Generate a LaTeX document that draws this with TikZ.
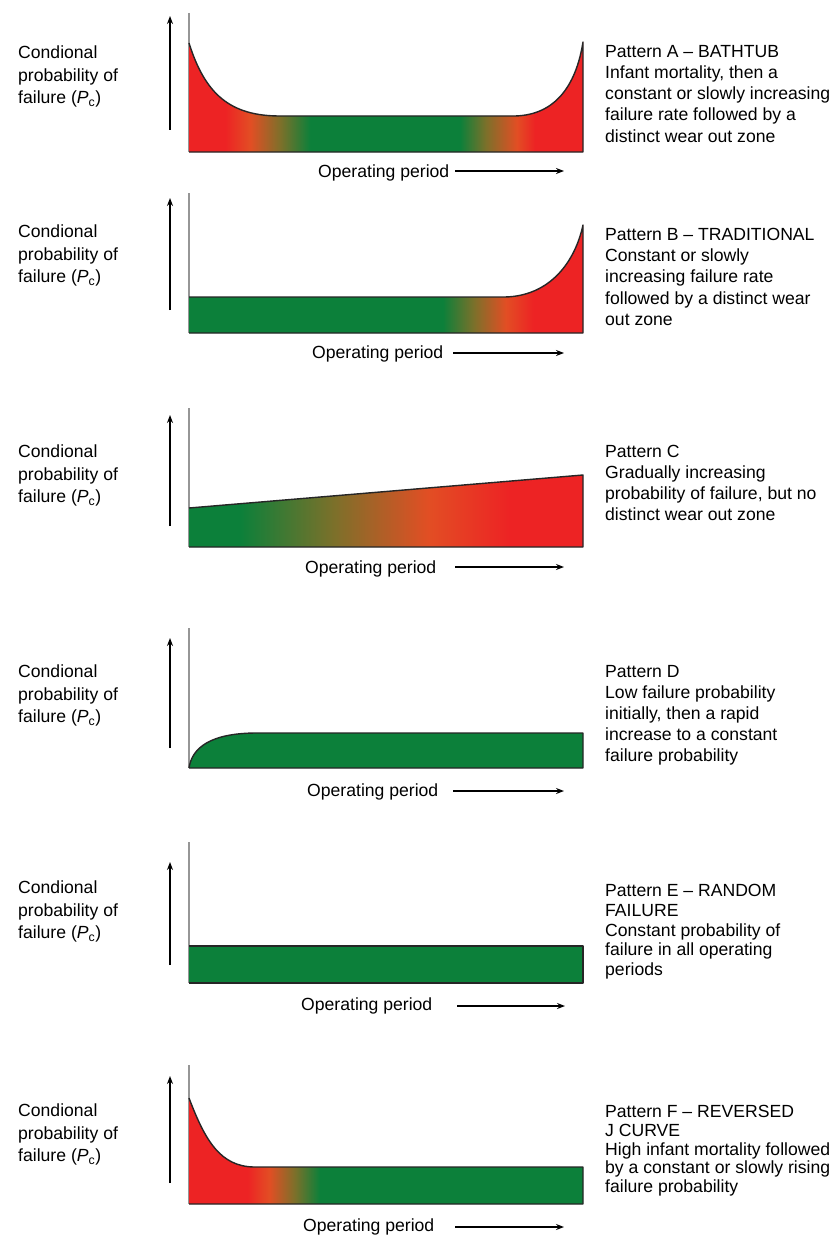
\documentclass[tikz,border=0pt]{standalone}
\usepackage{fontspec}
\setmainfont{Liberation Sans}
\usetikzlibrary{arrows.meta}

\definecolor{fred}{RGB}{237,35,36}
\definecolor{forange}{RGB}{226,78,36}
\definecolor{folive}{RGB}{125,112,42}
\definecolor{fgreen}{RGB}{12,128,58}
\definecolor{axisgray}{RGB}{150,150,150}

% horizontal colour ramps; 25bp..75bp spans the plot width (x = 189..583)
\pgfdeclarehorizontalshading{shadeA}{100bp}{color(0bp)=(fred); color(29.6bp)=(fred); color(32.8bp)=(forange); color(36.6bp)=(folive); color(40.4bp)=(fgreen); color(59.4bp)=(fgreen); color(62.7bp)=(folive); color(66.6bp)=(forange); color(68.9bp)=(fred); color(100bp)=(fred)}
\pgfdeclarehorizontalshading{shadeB}{100bp}{color(0bp)=(fgreen); color(57.2bp)=(fgreen); color(61.2bp)=(folive); color(65.2bp)=(forange); color(68.7bp)=(fred); color(100bp)=(fred)}
\pgfdeclarehorizontalshading{shadeC}{100bp}{color(0bp)=(fgreen); color(31.5bp)=(fgreen); color(43.5bp)=(folive); color(55.4bp)=(forange); color(65.7bp)=(fred); color(100bp)=(fred)}
\pgfdeclarehorizontalshading{shadeF}{100bp}{color(0bp)=(fred); color(32.4bp)=(fred); color(35.2bp)=(forange); color(38.4bp)=(folive); color(41.6bp)=(fgreen); color(100bp)=(fgreen)}

\begin{document}
\begin{tikzpicture}[x=1pt,y=-1pt,
  axisline/.style={axisgray,line width=1.2pt},
  vecarrow/.style={line width=1.6pt,-{Stealth[length=8pt,width=6pt]}},
  curveline/.style={black!85,line width=1.4pt,line join=round},
  ylabel/.style={anchor=north west,inner sep=0pt,align=left,font={\fontsize{17.6}{22.5}\selectfont}},
  desc/.style={anchor=north west,inner sep=0pt,align=left,font={\fontsize{17.6}{#1}\selectfont}},
  oplabel/.style={anchor=base west,inner sep=0pt,font={\fontsize{17.6}{21}\selectfont}},
]
\useasboundingbox (0,0) rectangle (839,1236);
\fill[white] (0,0) rectangle (839,1236);

\newcommand{\condlabel}{Condional\\probability of\\failure (\textit{P}\textsubscript{c})}

% ---------------- Pattern A ----------------
\draw[axisline] (189,13) -- (189,152);
\shade[shading=shadeA] (189,152) -- (189,43) .. controls (205,94) and (230,116) .. (280,116)
  -- (515,116) .. controls (555,115) and (576,86) .. (583,42) -- (583,152) -- cycle;
\draw[curveline] (189,43) .. controls (205,94) and (230,116) .. (280,116)
  -- (515,116) .. controls (555,115) and (576,86) .. (583,42) -- (583,152) -- (189,152);
\coordinate (upA0) at (170,130); \coordinate (upA1) at (170,16);
\draw[vecarrow] (upA0) -- (upA1);
\node[ylabel] (yA) at (18,46) {\condlabel};
\node[oplabel] (opA) at (318,177) {Operating period};
\coordinate (rtA0) at (455,171); \coordinate (rtA1) at (564,171);
\draw[vecarrow] (rtA0) -- (rtA1);
\node[desc=21.2] (dA) at (605,45) {Pattern A \textendash{} BATHTUB\\Infant mortality, then a\\constant or slowly increasing\\failure rate followed by a\\distinct wear out zone};

% ---------------- Pattern B ----------------
\draw[axisline] (189,193) -- (189,333);
\shade[shading=shadeB] (189,333) -- (189,297) -- (505,297)
  .. controls (550,296) and (575,262) .. (583,225) -- (583,333) -- cycle;
\draw[curveline] (189,297) -- (505,297)
  .. controls (550,296) and (575,262) .. (583,225) -- (583,333) -- (189,333);
\coordinate (upB0) at (170,310); \coordinate (upB1) at (170,198);
\draw[vecarrow] (upB0) -- (upB1);
\node[ylabel] (yB) at (18,225) {\condlabel};
\node[oplabel] (opB) at (312,358) {Operating period};
\coordinate (rtB0) at (453,353); \coordinate (rtB1) at (564,353);
\draw[vecarrow] (rtB0) -- (rtB1);
\node[desc=21.2] (dB) at (605,228) {Pattern B \textendash{} TRADITIONAL\\Constant or slowly\\increasing failure rate\\followed by a distinct wear\\out zone};

% ---------------- Pattern C ----------------
\draw[axisline] (189,408) -- (189,547);
\shade[shading=shadeC] (189,547) -- (189,508) -- (583,475) -- (583,547) -- cycle;
\draw[curveline] (189,508) -- (583,475) -- (583,547) -- (189,547);
\coordinate (upC0) at (170,526); \coordinate (upC1) at (170,415);
\draw[vecarrow] (upC0) -- (upC1);
\node[ylabel] (yC) at (18,445) {\condlabel};
\node[oplabel] (opC) at (305,573) {Operating period};
\coordinate (rtC0) at (455,567); \coordinate (rtC1) at (564,567);
\draw[vecarrow] (rtC0) -- (rtC1);
\node[desc=21] (dC) at (605,445) {Pattern C\\Gradually increasing\\probability of failure, but no\\distinct wear out zone};

% ---------------- Pattern D ----------------
\draw[axisline] (189,628) -- (189,768);
\fill[fgreen] (189,768) .. controls (192,748) and (210,733) .. (257,733)
  -- (583,733) -- (583,768) -- cycle;
\draw[curveline] (189,768) .. controls (192,748) and (210,733) .. (257,733)
  -- (583,733) -- (583,768) -- (189,768);
\coordinate (upD0) at (170,748); \coordinate (upD1) at (170,638);
\draw[vecarrow] (upD0) -- (upD1);
\node[ylabel] (yD) at (18,665) {\condlabel};
\node[oplabel] (opD) at (307,796) {Operating period};
\coordinate (rtD0) at (453,791); \coordinate (rtD1) at (564,791);
\draw[vecarrow] (rtD0) -- (rtD1);
\node[desc=21] (dD) at (605,665) {Pattern D\\Low failure probability\\initially, then a rapid\\increase to a constant\\failure probability};

% ---------------- Pattern E ----------------
\draw[axisline] (189,842) -- (189,983);
\fill[fgreen] (189,946) rectangle (583,983);
\draw[curveline] (189,946) -- (583,946) -- (583,983) -- (189,983);
\coordinate (upE0) at (170,965); \coordinate (upE1) at (170,862);
\draw[vecarrow] (upE0) -- (upE1);
\node[ylabel] (yE) at (18,881) {\condlabel};
\node[oplabel] (opE) at (301,1010) {Operating period};
\coordinate (rtE0) at (457,1006); \coordinate (rtE1) at (565,1006);
\draw[vecarrow] (rtE0) -- (rtE1);
\node[desc=19.8] (dE) at (605,884) {Pattern E \textendash{} RANDOM\\FAILURE\\Constant probability of\\failure in all operating\\periods};

% ---------------- Pattern F ----------------
\draw[axisline] (189,1065) -- (189,1204);
\shade[shading=shadeF] (189,1204) -- (189,1098) .. controls (205,1140) and (220,1167) .. (255,1167)
  -- (583,1167) -- (583,1204) -- cycle;
\draw[curveline] (189,1098) .. controls (205,1140) and (220,1167) .. (255,1167)
  -- (583,1167) -- (583,1204) -- (189,1204);
\coordinate (upF0) at (170,1183); \coordinate (upF1) at (170,1076);
\draw[vecarrow] (upF0) -- (upF1);
\node[ylabel] (yF) at (18,1104) {\condlabel};
\node[oplabel] (opF) at (303,1231) {Operating period};
\coordinate (rtF0) at (455,1227); \coordinate (rtF1) at (564,1227);
\draw[vecarrow] (rtF0) -- (rtF1);
\node[desc=18.8] (dF) at (605,1105) {Pattern F \textendash{} REVERSED\\J CURVE\\High infant mortality followed\\by a constant or slowly rising\\failure probability};

\end{tikzpicture}
\end{document}
